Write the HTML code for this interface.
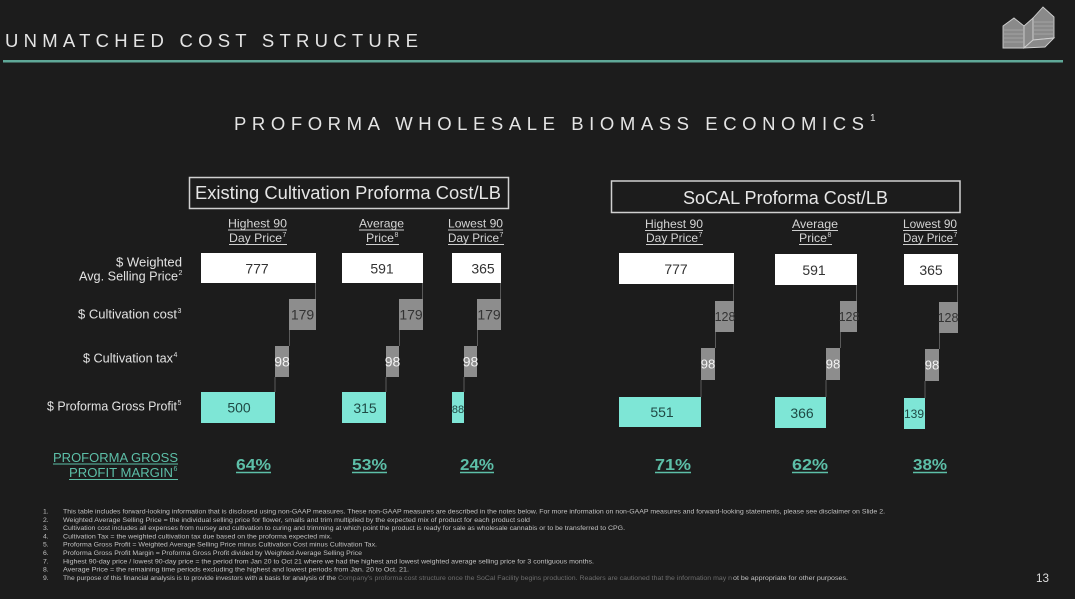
<!DOCTYPE html>
<html>
<head>
<meta charset="utf-8">
<style>
  html,body{margin:0;padding:0;background:#1c1c1c;}
  svg{display:block;}
  text{font-family:"Liberation Sans",sans-serif;}
</style>
</head>
<body>
<svg width="1075" height="599" viewBox="0 0 1075 599" xmlns="http://www.w3.org/2000/svg">
  <rect x="0" y="0" width="1075" height="599" fill="#1c1c1c"/>

  <!-- Header -->
  <text x="5" y="47" font-size="18.5" fill="#e4e4e4" textLength="413" lengthAdjust="spacing">UNMATCHED COST STRUCTURE</text>
  <rect x="3" y="60" width="1060" height="2.5" fill="#5fa898"/>

  <!-- Logo -->
  <g stroke="#cfcfcf" stroke-width="0.9" fill="#8a8a8a">
    <polygon points="1003,48 1003,26 1014,18 1024,26 1024,48"/>
    <polygon points="1024,26 1033,18 1033,40 1024,48"/>
    <polygon points="1033,18 1043,7 1054,17 1054,38 1033,40"/>
    <polygon points="1024,48 1033,40 1054,38 1045,47"/>
  </g>
  <g stroke="#bdbdbd" stroke-width="0.5">
    <line x1="1004" y1="30" x2="1023" y2="30"/><line x1="1004" y1="34" x2="1023" y2="34"/>
    <line x1="1004" y1="38" x2="1023" y2="38"/><line x1="1004" y1="42" x2="1023" y2="42"/>
    <line x1="1034" y1="22" x2="1053" y2="22"/><line x1="1034" y1="26" x2="1053" y2="26"/>
    <line x1="1034" y1="30" x2="1053" y2="30"/><line x1="1034" y1="34" x2="1053" y2="34"/>
  </g>

  <!-- Subtitle -->
  <text x="234" y="130" font-size="18.5" fill="#e4e4e4" textLength="630" lengthAdjust="spacing">PROFORMA WHOLESALE BIOMASS ECONOMICS</text>
  <text x="870" y="121" font-size="10" fill="#e4e4e4">1</text>

  <!-- Section boxes -->
  <rect x="189.5" y="177.5" width="319" height="31" fill="none" stroke="#d0d0d0" stroke-width="1.5"/>
  <text x="195" y="199" font-size="18" fill="#e6e6e6" textLength="306" lengthAdjust="spacingAndGlyphs">Existing Cultivation Proforma Cost/LB</text>
  <rect x="611.5" y="181" width="348.5" height="31.5" fill="none" stroke="#d0d0d0" stroke-width="1.5"/>
  <text x="683" y="204" font-size="18" fill="#e6e6e6" textLength="205" lengthAdjust="spacingAndGlyphs">SoCAL Proforma Cost/LB</text>

  <!-- Column headers -->
  <g font-size="12" fill="#d4d4d4">
    <text x="228" y="227.5" textLength="59" lengthAdjust="spacingAndGlyphs">Highest 90</text>
    <text x="229" y="242" textLength="53" lengthAdjust="spacingAndGlyphs">Day Price</text>
    <text x="282.5" y="237" font-size="7">7</text>
    <text x="359" y="227.5" textLength="45" lengthAdjust="spacingAndGlyphs">Average</text>
    <text x="366" y="242" textLength="28" lengthAdjust="spacingAndGlyphs">Price</text>
    <text x="394.5" y="237" font-size="7">8</text>
    <text x="448" y="227.5" textLength="55" lengthAdjust="spacingAndGlyphs">Lowest 90</text>
    <text x="448" y="242" textLength="51" lengthAdjust="spacingAndGlyphs">Day Price</text>
    <text x="499.5" y="237" font-size="7">7</text>

    <text x="645" y="228" textLength="58" lengthAdjust="spacingAndGlyphs">Highest 90</text>
    <text x="646" y="242" textLength="52" lengthAdjust="spacingAndGlyphs">Day Price</text>
    <text x="698.5" y="237" font-size="7">7</text>
    <text x="792" y="228" textLength="46" lengthAdjust="spacingAndGlyphs">Average</text>
    <text x="799" y="242" textLength="28" lengthAdjust="spacingAndGlyphs">Price</text>
    <text x="827.5" y="237" font-size="7">8</text>
    <text x="903" y="228" textLength="54" lengthAdjust="spacingAndGlyphs">Lowest 90</text>
    <text x="903" y="242" textLength="50" lengthAdjust="spacingAndGlyphs">Day Price</text>
    <text x="953.5" y="237" font-size="7">7</text>
  </g>
  <g stroke="#cfcfcf" stroke-width="0.9">
    <line x1="228" y1="230" x2="287" y2="230"/><line x1="229" y1="244.5" x2="287" y2="244.5"/>
    <line x1="359" y1="230" x2="404" y2="230"/><line x1="366" y1="244.5" x2="399" y2="244.5"/>
    <line x1="448" y1="230" x2="503" y2="230"/><line x1="448" y1="244.5" x2="504" y2="244.5"/>
    <line x1="645" y1="230.5" x2="703" y2="230.5"/><line x1="646" y1="244.5" x2="703" y2="244.5"/>
    <line x1="792" y1="230.5" x2="838" y2="230.5"/><line x1="799" y1="244.5" x2="832" y2="244.5"/>
    <line x1="903" y1="230.5" x2="957" y2="230.5"/><line x1="903" y1="244.5" x2="958" y2="244.5"/>
  </g>

  <!-- Row labels -->
  <g font-size="12.5" fill="#e2e2e2">
    <text x="116" y="266.5" textLength="66" lengthAdjust="spacingAndGlyphs">$ Weighted</text>
    <text x="79" y="280.5" textLength="99" lengthAdjust="spacingAndGlyphs">Avg. Selling Price</text>
    <text x="178.5" y="275" font-size="7">2</text>
    <text x="78" y="318.5" textLength="99" lengthAdjust="spacingAndGlyphs">$ Cultivation cost</text>
    <text x="177.5" y="313" font-size="7">3</text>
    <text x="83" y="362.5" textLength="90" lengthAdjust="spacingAndGlyphs">$ Cultivation tax</text>
    <text x="173.5" y="357" font-size="7">4</text>
    <text x="47" y="410.5" textLength="130" lengthAdjust="spacingAndGlyphs">$ Proforma Gross Profit</text>
    <text x="177.5" y="405" font-size="7">5</text>
  </g>

  <!-- Connector lines -->
  <g stroke="#5a5a5a" stroke-width="1">
    <line x1="315.5" y1="283" x2="315.5" y2="299"/><line x1="289.5" y1="330" x2="289.5" y2="346"/><line x1="275" y1="377" x2="275" y2="392"/>
    <line x1="422.5" y1="283" x2="422.5" y2="299"/><line x1="399.5" y1="330" x2="399.5" y2="346"/><line x1="386" y1="377" x2="386" y2="392"/>
    <line x1="500.5" y1="283" x2="500.5" y2="299"/><line x1="477.5" y1="330" x2="477.5" y2="346"/><line x1="464" y1="377" x2="464" y2="392"/>
    <line x1="733.5" y1="284" x2="733.5" y2="301"/><line x1="715.5" y1="332" x2="715.5" y2="348"/><line x1="701" y1="380" x2="701" y2="397"/>
    <line x1="856.5" y1="285" x2="856.5" y2="301"/><line x1="840.5" y1="332" x2="840.5" y2="348"/><line x1="826" y1="380" x2="826" y2="397"/>
    <line x1="957.5" y1="285" x2="957.5" y2="302"/><line x1="939.5" y1="333" x2="939.5" y2="349"/><line x1="925" y1="381" x2="925" y2="398"/>
  </g>

  <!-- Left bars -->
  <rect x="201" y="253" width="115" height="30" fill="#ffffff"/>
  <rect x="342" y="253" width="81" height="30" fill="#ffffff"/>
  <rect x="452" y="253" width="49" height="30" fill="#ffffff"/>
  <rect x="289" y="299" width="27" height="31" fill="#8d8d8d"/>
  <rect x="399" y="299" width="24" height="31" fill="#8d8d8d"/>
  <rect x="477" y="299" width="24" height="31" fill="#8d8d8d"/>
  <rect x="275" y="346" width="14" height="31" fill="#8d8d8d"/>
  <rect x="386" y="346" width="13" height="31" fill="#8d8d8d"/>
  <rect x="464" y="346" width="13" height="31" fill="#8d8d8d"/>
  <rect x="201" y="392" width="74" height="31" fill="#7ee6d6"/>
  <rect x="342" y="392" width="44" height="31" fill="#7ee6d6"/>
  <rect x="452" y="392" width="12" height="31" fill="#7ee6d6"/>

  <!-- Right bars -->
  <rect x="619" y="253" width="115" height="31" fill="#ffffff"/>
  <rect x="775" y="254" width="82" height="31" fill="#ffffff"/>
  <rect x="904" y="254" width="54" height="31" fill="#ffffff"/>
  <rect x="715" y="301" width="19" height="31" fill="#8d8d8d"/>
  <rect x="840" y="301" width="17" height="31" fill="#8d8d8d"/>
  <rect x="939" y="302" width="19" height="31" fill="#8d8d8d"/>
  <rect x="701" y="348" width="14" height="32" fill="#8d8d8d"/>
  <rect x="826" y="348" width="14" height="32" fill="#8d8d8d"/>
  <rect x="925" y="349" width="14" height="32" fill="#8d8d8d"/>
  <rect x="619" y="397" width="82" height="30" fill="#7ee6d6"/>
  <rect x="775" y="397" width="51" height="31" fill="#7ee6d6"/>
  <rect x="904" y="398" width="21" height="31" fill="#7ee6d6"/>

  <!-- Values -->
  <g font-size="14" text-anchor="middle">
    <text x="257" y="273.5" fill="#333">777</text>
    <text x="382" y="273.5" fill="#333">591</text>
    <text x="483" y="273.5" fill="#333">365</text>
    <text x="302.5" y="319.5" fill="#333">179</text>
    <text x="411" y="319.5" fill="#333">179</text>
    <text x="489" y="319.5" fill="#333">179</text>
    <text x="282" y="366.5" fill="#f2f2f2">98</text>
    <text x="392.5" y="366.5" fill="#f2f2f2">98</text>
    <text x="470.5" y="366.5" fill="#f2f2f2">98</text>
    <text x="239" y="412.5" fill="#1f4a45">500</text>
    <text x="365" y="413" fill="#1f4a45">315</text>
    <text x="458" y="413" font-size="11" fill="#1f4a45">88</text>

    <text x="676" y="274" fill="#333">777</text>
    <text x="814" y="275" fill="#333">591</text>
    <text x="931" y="275" fill="#333">365</text>
    <text x="725" y="321" font-size="12.5" fill="#333">128</text>
    <text x="849" y="321" font-size="12.5" fill="#333">128</text>
    <text x="948" y="322" font-size="12.5" fill="#333">128</text>
    <text x="708" y="368.5" font-size="13" fill="#f2f2f2">98</text>
    <text x="833" y="368.5" font-size="13" fill="#f2f2f2">98</text>
    <text x="932" y="369.5" font-size="13" fill="#f2f2f2">98</text>
    <text x="662" y="417" fill="#1f4a45">551</text>
    <text x="802" y="418" fill="#1f4a45">366</text>
    <text x="914" y="418" font-size="12" fill="#1f4a45">139</text>
  </g>

  <!-- Margin row -->
  <g fill="#5dbfa8">
    <text x="53" y="462" font-size="13" textLength="125" lengthAdjust="spacingAndGlyphs">PROFORMA GROSS</text>
    <text x="69" y="477" font-size="13" textLength="104" lengthAdjust="spacingAndGlyphs">PROFIT MARGIN</text>
    <text x="173.5" y="471" font-size="7">6</text>
  </g>
  <g stroke="#5dbfa8" stroke-width="1">
    <line x1="53" y1="464" x2="178" y2="464"/>
    <line x1="69" y1="479.5" x2="178" y2="479.5"/>
  </g>
  <g font-size="16" font-weight="bold" fill="#5dbfa8" text-anchor="middle">
    <text x="253.5" y="470" textLength="35" lengthAdjust="spacingAndGlyphs">64%</text>
    <text x="369.5" y="470" textLength="35" lengthAdjust="spacingAndGlyphs">53%</text>
    <text x="477" y="470" textLength="34" lengthAdjust="spacingAndGlyphs">24%</text>
    <text x="673" y="470" textLength="36" lengthAdjust="spacingAndGlyphs">71%</text>
    <text x="810" y="470" textLength="36" lengthAdjust="spacingAndGlyphs">62%</text>
    <text x="930" y="470" textLength="34" lengthAdjust="spacingAndGlyphs">38%</text>
  </g>
  <g stroke="#5dbfa8" stroke-width="1.5">
    <line x1="236" y1="472.5" x2="271" y2="472.5"/>
    <line x1="352" y1="472.5" x2="387" y2="472.5"/>
    <line x1="460" y1="472.5" x2="494" y2="472.5"/>
    <line x1="655" y1="472.5" x2="691" y2="472.5"/>
    <line x1="792" y1="472.5" x2="828" y2="472.5"/>
    <line x1="913" y1="472.5" x2="947" y2="472.5"/>
  </g>

  <!-- Footnotes -->
  <g font-size="6.8" fill="#c2c2c2">
    <text x="43" y="513.5">1.</text>
    <text x="43" y="521.8">2.</text>
    <text x="43" y="530.1">3.</text>
    <text x="43" y="538.4">4.</text>
    <text x="43" y="546.7">5.</text>
    <text x="43" y="555">6.</text>
    <text x="43" y="563.3">7.</text>
    <text x="43" y="571.6">8.</text>
    <text x="43" y="579.9">9.</text>
    <text x="63" y="513.5" textLength="822" lengthAdjust="spacingAndGlyphs">This table includes forward-looking information that is disclosed using non-GAAP measures. These non-GAAP measures are described in the notes below. For more information on non-GAAP measures and forward-looking statements, please see disclaimer on Slide 2.</text>
    <text x="63" y="521.8" textLength="467" lengthAdjust="spacingAndGlyphs">Weighted Average Selling Price = the individual selling price for flower, smalls and trim multiplied by the expected mix of product for each product sold</text>
    <text x="63" y="530.1" textLength="562" lengthAdjust="spacingAndGlyphs">Cultivation cost includes all expenses from nursey and cultivation to curing and trimming at which point the product is ready for sale as wholesale cannabis or to be transferred to CPG.</text>
    <text x="63" y="538.4" textLength="269" lengthAdjust="spacingAndGlyphs">Cultivation Tax = the weighted cultivation tax due based on the proforma expected mix.</text>
    <text x="63" y="546.7" textLength="314" lengthAdjust="spacingAndGlyphs">Proforma Gross Profit = Weighted Average Selling Price minus Cultivation Cost minus Cultivation Tax.</text>
    <text x="63" y="555" textLength="299" lengthAdjust="spacingAndGlyphs">Proforma Gross Profit Margin = Proforma Gross Profit divided by Weighted Average Selling Price</text>
    <text x="63" y="563.3" textLength="531" lengthAdjust="spacingAndGlyphs">Highest 90-day price / lowest 90-day price = the period from Jan 20 to Oct 21 where we had the highest and lowest weighted average selling price for 3 contiguous months.</text>
    <text x="63" y="571.6" textLength="346" lengthAdjust="spacingAndGlyphs">Average Price = the remaining time periods excluding the highest and lowest periods from Jan. 20 to Oct. 21.</text>
    <text x="63" y="579.9" textLength="273" lengthAdjust="spacingAndGlyphs">The purpose of this financial analysis is to provide investors with a basis for analysis of the</text>
    <text x="338" y="579.9" textLength="394" lengthAdjust="spacingAndGlyphs" fill="#6e6e6e">Company's proforma cost structure once the SoCal Facility begins production. Readers are cautioned that the information may n</text>
    <text x="733" y="579.9" textLength="115" lengthAdjust="spacingAndGlyphs">ot be appropriate for other purposes.</text>
  </g>

  <!-- Page number -->
  <text x="1036" y="582" font-size="12" fill="#dedede" textLength="13" lengthAdjust="spacingAndGlyphs">13</text>
</svg>
</body>
</html>
